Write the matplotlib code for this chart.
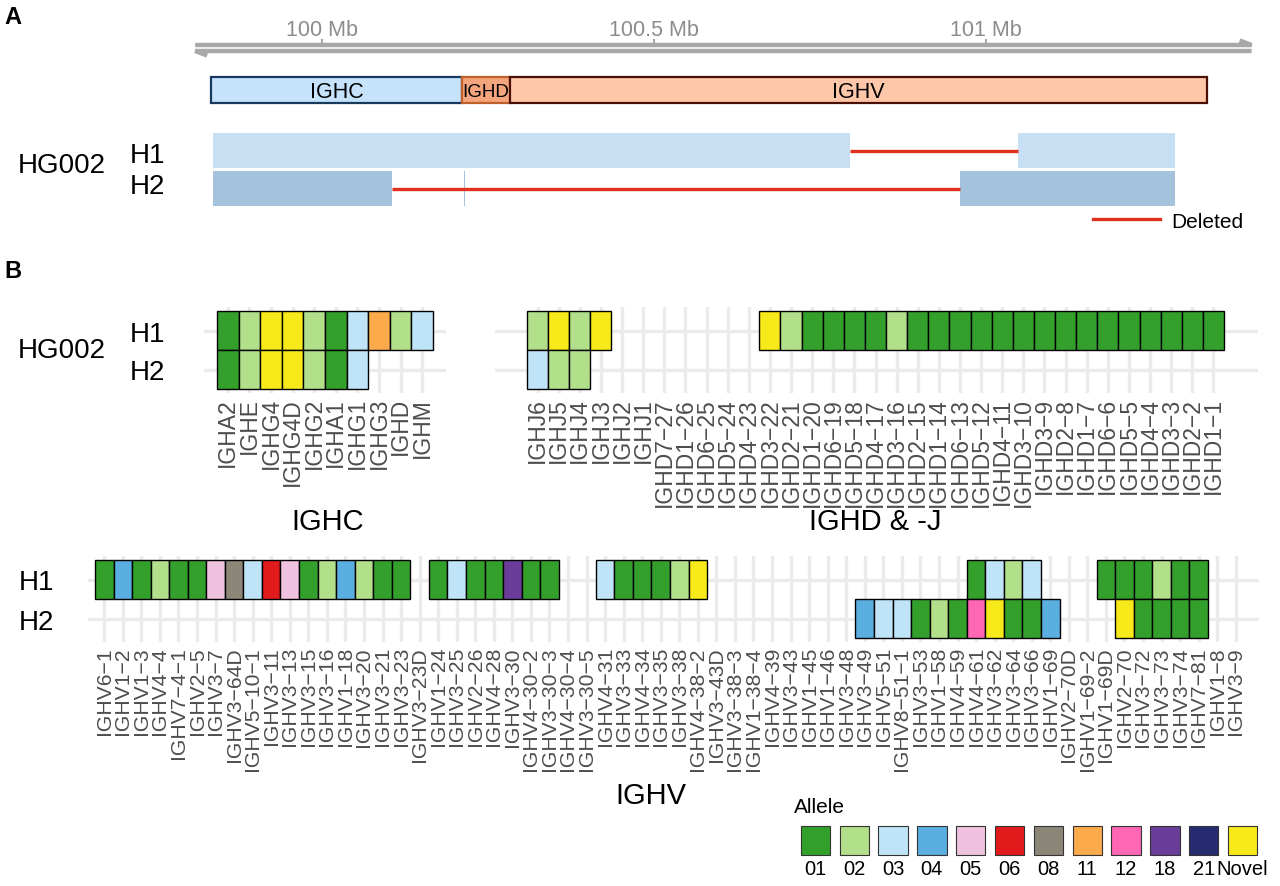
import matplotlib
matplotlib.use('Agg')
import matplotlib.pyplot as plt
from matplotlib.lines import Line2D

plt.rcParams['font.family'] = ['Liberation Sans', 'DejaVu Sans']

W, H = 1280, 887

# ---------------- data ----------------
# panel A : genome coordinates (Mb)
axis_start, axis_end = 99.809, 101.400
axis_ticks = [100.0, 100.5, 101.0]

region_names = ['IGHC', 'IGHD', 'IGHV']
region_start = [99.833, 100.211, 100.283]
region_end = [100.211, 100.283, 101.333]

h1_present_start = [99.836, 101.048]
h1_present_end = [100.795, 101.285]
h1_deleted = [(100.795, 101.048)]

h2_present_start = [99.836, 100.214, 100.961]
h2_present_end = [100.105, 100.216, 101.285]
h2_deleted = [(100.105, 100.961)]

# panel B : allele calls
allele_names = ['01', '02', '03', '04', '05', '06', '08', '11', '12', '18', '21', 'Novel']
allele_colors = ['#33a02c', '#b2df8a', '#bfe4f7', '#5aaee0', '#efc3df', '#e31a1c',
                 '#8b8678', '#fbaa4c', '#ff66b3', '#6a3d9a', '#262b6f', '#f8ea1a']

ighc_genes = ['IGHA2', 'IGHE', 'IGHG4', 'IGHG4D', 'IGHG2', 'IGHA1', 'IGHG1', 'IGHG3', 'IGHD', 'IGHM']
ighc_h1 = ['01', '02', 'Novel', 'Novel', '02', '01', '03', '11', '02', '03']
ighc_h2 = ['01', '02', 'Novel', 'Novel', '02', '01', '03', None, None, None]

ighdj_genes = ['IGHJ6', 'IGHJ5', 'IGHJ4', 'IGHJ3', 'IGHJ2', 'IGHJ1',
               'IGHD7-27', 'IGHD1-26', 'IGHD6-25', 'IGHD5-24', 'IGHD4-23', 'IGHD3-22',
               'IGHD2-21', 'IGHD1-20', 'IGHD6-19', 'IGHD5-18', 'IGHD4-17', 'IGHD3-16',
               'IGHD2-15', 'IGHD1-14', 'IGHD6-13', 'IGHD5-12', 'IGHD4-11', 'IGHD3-10',
               'IGHD3-9', 'IGHD2-8', 'IGHD1-7', 'IGHD6-6', 'IGHD5-5', 'IGHD4-4',
               'IGHD3-3', 'IGHD2-2', 'IGHD1-1']
ighdj_h1 = ['02', 'Novel', '02', 'Novel', None, None,
            None, None, None, None, None, 'Novel',
            '02', '01', '01', '01', '01', '02',
            '01', '01', '01', '01', '01', '01',
            '01', '01', '01', '01', '01', '01',
            '01', '01', '01']
ighdj_h2 = ['03', '02', '02'] + [None] * 30

ighv_genes = ['IGHV6-1', 'IGHV1-2', 'IGHV1-3', 'IGHV4-4', 'IGHV7-4-1', 'IGHV2-5', 'IGHV3-7',
              'IGHV3-64D', 'IGHV5-10-1', 'IGHV3-11', 'IGHV3-13', 'IGHV3-15', 'IGHV3-16',
              'IGHV1-18', 'IGHV3-20', 'IGHV3-21', 'IGHV3-23', 'IGHV3-23D', 'IGHV1-24',
              'IGHV3-25', 'IGHV2-26', 'IGHV4-28', 'IGHV3-30', 'IGHV4-30-2', 'IGHV3-30-3',
              'IGHV4-30-4', 'IGHV3-30-5', 'IGHV4-31', 'IGHV3-33', 'IGHV4-34', 'IGHV3-35',
              'IGHV3-38', 'IGHV4-38-2', 'IGHV3-43D', 'IGHV3-38-3', 'IGHV1-38-4', 'IGHV4-39',
              'IGHV3-43', 'IGHV1-45', 'IGHV1-46', 'IGHV3-48', 'IGHV3-49', 'IGHV5-51',
              'IGHV8-51-1', 'IGHV3-53', 'IGHV1-58', 'IGHV4-59', 'IGHV4-61', 'IGHV3-62',
              'IGHV3-64', 'IGHV3-66', 'IGHV1-69', 'IGHV2-70D', 'IGHV1-69-2', 'IGHV1-69D',
              'IGHV2-70', 'IGHV3-72', 'IGHV3-73', 'IGHV3-74', 'IGHV7-81', 'IGHV1-8', 'IGHV3-9']
ighv_h1 = (['01', '04', '01', '02', '01', '01', '05', '08', '03', '06', '05', '01', '02',
            '04', '02', '01', '01', None,
            '01', '03', '01', '01', '18', '01', '01', None, None,
            '03', '01', '01', '01', '02', 'Novel']
           + [None] * 14
           + ['01', '03', '02', '03', None, None, None,
              '01', '01', '01', '02', '01', '01', None, None])
ighv_h2 = ([None] * 41
           + ['04', '03', '03', '01', '02', '01', '12', 'Novel', '01', '01', '04',
              None, None, None, 'Novel', '01', '01', '01', '01', None, None])

color_of = dict(zip(allele_names, allele_colors))


def px_box(x0, y0, x1, y1):
    return [x0 / W, 1 - y1 / H, (x1 - x0) / W, (y1 - y0) / H]


fig = plt.figure(figsize=(12.8, 8.87), dpi=100)

# ---------------- panel A ----------------
ax_a = fig.add_axes(px_box(190, 20, 1262, 240))
ax_a.set_xlim(100 + (190 - 322) / 664, 100 + (1262 - 322) / 664)
ax_a.set_ylim(240, 20)  # track layout, top to bottom
ax_a.axis('off')

axis_grey = '#a8a8a8'
ax_a.plot([axis_start, axis_end, axis_end - 0.018], [46, 46, 41.5], color=axis_grey, lw=3.2,
          solid_capstyle='butt', solid_joinstyle='miter')
ax_a.plot([axis_end, axis_start, axis_start + 0.018], [52, 52, 56.5], color=axis_grey, lw=3.2,
          solid_capstyle='butt', solid_joinstyle='miter')
ax_a.vlines(axis_ticks, 40, 46, color=axis_grey, lw=1.6)
for t in axis_ticks:
    ax_a.text(t, 30, '{:g} Mb'.format(t), ha='center', va='center', color='#8c8c8c', fontsize=15.5)

reg_fill = ['#c6e3fb', '#f4a57e', '#fec7a9']
reg_edge = ['#173a5e', '#c0602a', '#4b0f05']
widths = [e - s for s, e in zip(region_start, region_end)]
ax_a.barh(91, widths, left=region_start, height=26, color=reg_fill, edgecolor=reg_edge, lw=1.6)
for name, s, e in zip(region_names, region_start, region_end):
    ax_a.text((s + e) / 2, 92, name, ha='center', va='center',
              fontsize=13.5 if name == 'IGHD' else 15.5)

red = '#e0301e'
ax_a.barh(151.5, [e - s for s, e in zip(h1_present_start, h1_present_end)],
          left=h1_present_start, height=35, color='#c6dff3')
ax_a.barh(189.5, [e - s for s, e in zip(h2_present_start, h2_present_end)],
          left=h2_present_start, height=35, color='#a4c2dc')
for s, e in h1_deleted:
    ax_a.hlines(151.5, s, e, color=red, lw=2.4)
for s, e in h2_deleted:
    ax_a.hlines(189.5, s, e, color=red, lw=2.4)

ax_a.legend(handles=[Line2D([0], [0], color=red, lw=2.4)], labels=['Deleted'],
            loc='center left', bbox_to_anchor=(1093 / W, 1 - 222 / H), bbox_transform=fig.transFigure,
            frameon=False, handlelength=3.2, handletextpad=0.55, borderpad=0, borderaxespad=0,
            fontsize=15)

fig.text(18 / W, 1 - 166 / H, 'HG002', fontsize=20, va='center', ha='left')
fig.text(130 / W, 1 - 156 / H, 'H1', fontsize=20, va='center', ha='left')
fig.text(130 / W, 1 - 187 / H, 'H2', fontsize=20, va='center', ha='left')

fig.text(4 / W, 1 - 18 / H, 'A', fontsize=17, fontweight='bold', va='center')
fig.text(4 / W, 1 - 271 / H, 'B', fontsize=17, fontweight='bold', va='center')


# ---------------- panel B ----------------
def heat_axes(cx0, cx1, cy0, cy1, ncol, pad_l, pad_r, pad_y=0.1):
    cw = (cx1 - cx0) / ncol
    rh = (cy1 - cy0) / 2
    ax = fig.add_axes(px_box(cx0 - pad_l * cw, cy0 - pad_y * rh, cx1 + pad_r * cw, cy1 + pad_y * rh))
    ax.set_xlim(-0.5 - pad_l, ncol - 0.5 + pad_r)
    ax.set_ylim(1.5 + pad_y, -0.5 - pad_y)
    return ax


def draw_heat(ax, genes, rows, ylabels, ypad, label_size):
    for r, alleles in enumerate(rows):
        idx = [i for i, a in enumerate(alleles) if a]
        ax.bar(idx, 1, width=1, bottom=r - 0.5, color=[color_of[alleles[i]] for i in idx],
               edgecolor='black', lw=1.0, zorder=3)
    ax.set_xticks(range(len(genes)))
    ax.set_xticklabels([g.replace('-', '\u2212') for g in genes], rotation=90,
                       fontsize=label_size, color='#4d4d4d')
    ax.set_yticks([0, 1])
    if ylabels:
        ax.set_yticklabels(['H1', 'H2'], fontsize=20)
    else:
        ax.set_yticklabels([])
    ax.tick_params(axis='x', length=0, pad=3)
    ax.tick_params(axis='y', length=0, pad=ypad)
    ax.grid(True, color='#ebebeb', lw=2.4, zorder=0)
    ax.set_axisbelow(True)
    for s in ax.spines.values():
        s.set_visible(False)


ax_c = heat_axes(217, 433, 312, 390, len(ighc_genes), 0.6, 0.6)
draw_heat(ax_c, ighc_genes, [ighc_h1, ighc_h2], True, 28, 16.5)

ax_d = heat_axes(527, 1224, 312, 390, len(ighdj_genes), 1.5, 1.6)
draw_heat(ax_d, ighdj_genes, [ighdj_h1, ighdj_h2], False, 0, 16.5)

ax_v = heat_axes(95, 1245, 561, 639, len(ighv_genes), 0.4, 0.75)
draw_heat(ax_v, ighv_genes, [ighv_h1, ighv_h2], True, 24, 15.2)

fig.text(18 / W, 1 - 351 / H, 'HG002', fontsize=20, va='center', ha='left')

fig.text(328 / W, 1 - 522 / H, 'IGHC', fontsize=21, ha='center', va='center')
fig.text(875 / W, 1 - 522 / H, 'IGHD & -J', fontsize=21, ha='center', va='center')
fig.text(651 / W, 1 - 796 / H, 'IGHV', fontsize=21, ha='center', va='center')

# allele legend
ax_l = fig.add_axes(px_box(796, 827, 1262, 856))
ax_l.bar(range(len(allele_names)), 1, width=0.755, color=allele_colors,
         edgecolor='#333333', lw=0.8, clip_on=False)
ax_l.set_xlim(-0.5, len(allele_names) - 0.5)
ax_l.set_ylim(0, 1)
ax_l.set_xticks(range(len(allele_names)))
ax_l.set_xticklabels(allele_names, fontsize=14.5)
ax_l.set_yticks([])
ax_l.tick_params(axis='x', length=0, pad=3)
for s in ax_l.spines.values():
    s.set_visible(False)
fig.text(794 / W, 1 - 808 / H, 'Allele', fontsize=15, ha='left', va='center')

fig.savefig('out.png', dpi=100)
